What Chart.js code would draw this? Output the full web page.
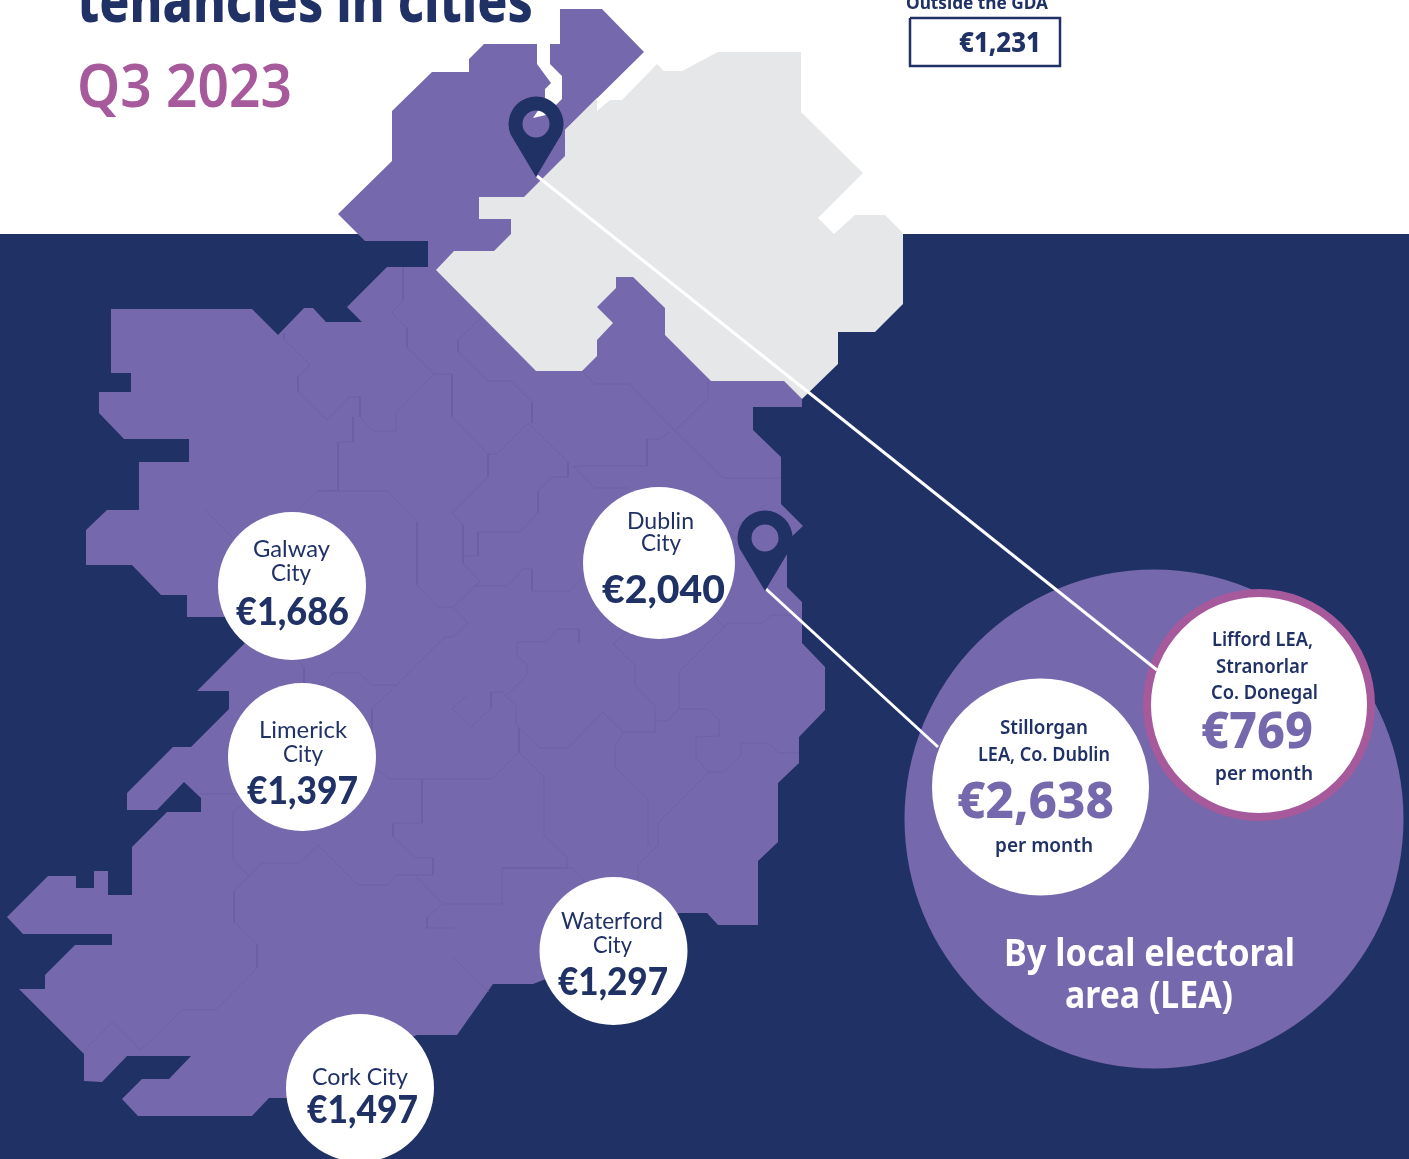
<!DOCTYPE html>
<html>
<head>
<meta charset="utf-8">
<title>Tenancies in cities Q3 2023</title>
<script src="https://cdn.jsdelivr.net/npm/chart.js@4"></script>
<style>
    html, body { margin: 0; padding: 0; background: #fff; overflow: hidden; }
    canvas { display: block; }
</style>
</head>
<body>
<canvas id="mapChart" width="1409" height="1159"></canvas>
<script>
// values
const cityRents = [1686, 1397, 2040, 1297, 1497];
const leaRents = [2638, 769];
const outsideGdaRent = 1231;

// map outlines, in picture coordinates
const irelandOutline = [[560,9],[602,9],[644,52],[565,130],[565,156],[802,399],[802,407],[753,407],[753,430],[781,457],[781,504],[803,526],[787,541],[787,587],[802,602],[802,643],[825,667],[825,710],[799,737],[799,763],[778,783],[778,842],[758,861],[758,925],[718,925],[707,913],[679,913],[620,950],[533,984],[493,984],[457,1035],[417,1035],[350,1060],[287,1098],[269,1098],[252,1116],[138,1116],[122,1099],[142,1079],[169,1079],[191,1056],[127,1056],[102,1082],[84,1081],[84,1054],[19,989],[45,989],[45,975],[75,945],[112,945],[112,934],[23,934],[7,917],[48,876],[76,876],[76,888],[94,888],[94,871],[108,871],[108,895],[132,895],[132,847],[167,812],[201,812],[201,798],[184,782],[157,810],[127,810],[127,793],[173,747],[191,747],[229,709],[229,691],[197,691],[245,643],[227,617],[187,617],[187,595],[161,595],[132,565],[86,565],[86,530],[107,510],[139,510],[139,462],[189,462],[189,439],[124,439],[99,413],[99,392],[131,392],[131,373],[111,373],[111,309],[252,309],[278,335],[304,308],[313,308],[326,322],[362,322],[347,307],[387,267],[428,267],[428,241],[365,241],[338,214],[392,161],[392,111],[432,72],[469,72],[469,59],[484,44],[537,44],[537,64],[551,83],[545,89],[545,100],[533,118],[546,115],[562,99],[562,76],[550,64],[550,44],[560,44],[560,9]];
const northernOutline = [[436,270],[454,251],[494,251],[511,234],[511,219],[479,219],[479,197],[524,197],[565,156],[565,130],[597,98],[597,111],[610,100],[622,100],[657,64],[664,71],[682,71],[718,52],[801,52],[801,112],[863,173],[818,218],[834,234],[855,215],[885,215],[903,233],[903,304],[875,332],[838,332],[838,364],[802,399],[784,381],[711,381],[665,335],[665,308],[633,277],[616,277],[616,288],[597,307],[613,323],[597,340],[597,356],[582,371],[536,371],[436,270]];
const seaOutline = [[0,234],[1409,234],[1409,1159],[0,1159],[0,234]];
const gdaBoxOutline = [[910,18],[1060,18],[1060,66],[910,66],[910,18]];

// county boundaries
const countyLines = [
    [[403,267],[403,300],[392,313],[407,328],[407,347],[434,374],[452,374],[452,417],[488,454],[497,454],[528,423],[568,462],[568,477],[552,477],[538,491],[538,513],[520,532],[478,532],[478,556],[463,556]],
    [[284,333],[284,339],[310,365],[298,377],[298,392],[327,420],[349,397],[360,397],[360,417],[373,431],[396,431],[396,413],[434,374]],
    [[353,417],[353,442],[338,442],[338,490],[318,491],[297,511]],
    [[318,491],[387,491],[417,522],[417,585],[438,607],[453,607],[468,623],[453,637],[445,637],[372,709],[372,767],[390,779],[492,779],[519,752]],
    [[422,779],[422,823],[393,823],[393,837],[416,858],[433,858],[433,875],[397,875],[387,885],[358,885],[318,845],[300,863],[262,863],[234,891],[234,922],[257,944],[257,968],[216,1010],[182,1010],[141,1050],[112,1022],[83,1052]],
    [[249,876],[233,860],[233,812],[245,802]],
    [[200,794],[238,794]],
    [[416,876],[443,904],[502,904],[502,868],[567,868],[567,857],[544,835],[544,777],[519,752]],
    [[502,868],[572,868],[585,882]],
    [[443,904],[427,917],[427,928],[453,928]],
    [[453,957],[489,992]],
    [[638,880],[638,865],[658,845],[658,823],[709,772],[723,772],[741,755],[741,743],[768,743],[779,753],[799,753]],
    [[709,772],[696,758],[696,737],[719,736],[719,720],[708,709],[679,709],[679,672],[728,623],[763,623],[771,615],[802,615]],
    [[648,845],[648,799],[615,767],[615,747],[623,732],[655,732],[655,706],[635,685],[635,665],[613,644],[627,632]],
    [[725,627],[715,618]],
    [[679,709],[667,721],[655,721]],
    [[623,732],[603,712],[568,748],[540,748],[519,728],[516,725],[516,706],[502,692],[491,692],[491,708],[471,727],[452,709],[467,695]],
    [[507,695],[527,675],[527,665],[517,655],[517,642],[546,642],[558,629],[579,629],[579,643]],
    [[519,728],[519,752]],
    [[488,454],[488,477],[452,513],[463,525],[463,563],[480,581],[475,586],[507,586],[523,569],[532,569],[532,591],[570,591],[583,577]],
    [[480,581],[453,607]],
    [[458,340],[482,317]],
    [[458,340],[458,352],[488,381],[511,381],[532,402],[532,423]],
    [[582,371],[595,384],[629,384],[675,431],[708,398],[708,381]],
    [[675,431],[723,478],[781,478]],
    [[670,432],[660,439],[647,439],[647,466],[573,466],[595,488],[628,488]],
    [[768,503],[745,520],[730,532],[742,545]],
    [[297,659],[304,668],[304,685],[323,685],[333,673],[359,673],[372,685],[396,685]],
    [[205,510],[233,538]]
];

// connectors from the two pins to the LEA circles
const connectorLines = [
    [[537,176],[1157,670]],
    [[765,588],[938,747]]
];

const ink = '#203166';
const purple = '#7668ac';
const borderPurple = '#6a5fa4';
const magenta = '#a65a9b';
const pale = '#e6e7e8';

const euro = n => '€' + n.toLocaleString('en-IE');
const points = list => list.map(p => ({ x: p[0], y: p[1] }));

// circles: x, y, radius
const bigCircle = [{ x: 1154, y: 819, r: 249.5 }];
const cityCircles = [
    { x: 292, y: 586, r: 74 },
    { x: 302, y: 757, r: 74 },
    { x: 659, y: 563, r: 76 },
    { x: 613.5, y: 951, r: 74 },
    { x: 360, y: 1088, r: 74 }
];
const stillorganCircle = [{ x: 1040.5, y: 787, r: 108.5 }];
const liffordCircle = [{ x: 1259, y: 705, r: 112 }];
const pinTips = [{ x: 536, y: 177 }, { x: 765, y: 591 }];

function shape(list, colour) {
    return { type: 'line', data: points(list), backgroundColor: colour, borderWidth: 0, fill: 'shape', pointRadius: 0, tension: 0 };
}
function stroke(list, colour, width) {
    return { type: 'line', data: points(list), borderColor: colour, borderWidth: width, fill: false, pointRadius: 0, tension: 0 };
}
function circles(list, colour, edge, edgeWidth) {
    return { type: 'bubble', data: list, backgroundColor: colour, borderColor: edge || colour, borderWidth: edgeWidth || 0 };
}

// first dataset is painted last
const datasets = [
    circles(cityCircles, '#fff'),
    ...connectorLines.map(l => stroke(l, '#fff', 3)),
    circles(stillorganCircle, '#fff'),
    circles(liffordCircle, '#fff', magenta, 8),
    circles(bigCircle, purple),
    shape(northernOutline, pale),
    ...countyLines.map(l => stroke(l, borderPurple, 0.7)),
    shape(irelandOutline, purple),
    stroke(gdaBoxOutline, ink, 2.5),
    shape(seaOutline, ink)
];

const city = '400 24px Lato';
const cityRent = '900 37px Lato';
const lea = '600 20px "Noto Sans"';
const leaRent = '800 50px "Noto Sans"';

// text, left, right, baseline, font, colour
const textRows = [
    ['tenancies in cities', 77, 533, 22, '800 60px "Noto Sans"', ink],
    ['Q3 2023', 77, 292, 107, '600 60px "Noto Sans"', magenta],
    ['Outside the GDA', 906, 1048, 9, '700 18px "Noto Sans"', ink],
    [euro(outsideGdaRent), 959, 1041, 52, '800 28px "Noto Sans"', ink],
    ['Galway', 253, 330, 557, city, ink],
    ['City', 271, 311, 581, city, ink],
    [euro(cityRents[0]), 236, 349, 625, cityRent, ink],
    ['Limerick', 259, 347, 738, city, ink],
    ['City', 283, 323, 762, city, ink],
    [euro(cityRents[1]), 247, 358, 804, cityRent, ink],
    ['Dublin', 627, 694, 529, city, ink],
    ['City', 641, 681, 551, city, ink],
    [euro(cityRents[2]), 602, 725, 603, cityRent, ink],
    ['Waterford', 561, 663, 929, city, ink],
    ['City', 593, 632, 953, city, ink],
    [euro(cityRents[3]), 558, 668, 995, cityRent, ink],
    ['Cork City', 312, 408, 1085, city, ink],
    [euro(cityRents[4]), 307, 418, 1123, cityRent, ink],
    ['Lifford LEA,', 1212, 1313, 646, lea, ink],
    ['Stranorlar', 1216, 1308, 673, lea, ink],
    ['Co. Donegal', 1211, 1318, 699, lea, ink],
    [euro(leaRents[1]), 1201, 1313, 748, leaRent, purple],
    ['per month', 1215, 1313, 780, lea, ink],
    ['Stillorgan', 1000, 1088, 734, lea, ink],
    ['LEA, Co. Dublin', 978, 1110, 761, lea, ink],
    [euro(leaRents[0]), 957, 1114, 818, leaRent, purple],
    ['per month', 995, 1093, 852, lea, ink],
    ['By local electoral', 1004, 1295, 966, '700 37px "Noto Sans"', '#fff'],
    ['area (LEA)', 1065, 1233, 1008, '700 37px "Noto Sans"', '#fff']
];

// pins and text go on top of the datasets
const mapExtras = {
    id: 'mapExtras',
    afterDatasetsDraw(chart) {
        const ctx = chart.ctx;
        const xs = chart.scales.x;
        const ys = chart.scales.y;

        pinTips.forEach(tip => {
            const px = xs.getPixelForValue(tip.x);
            const py = ys.getPixelForValue(tip.y);
            const headY = py - 53;
            ctx.save();
            ctx.beginPath();
            ctx.arc(px, headY, 27.5, Math.PI - 0.38, 0.38);
            ctx.lineTo(px, py);
            ctx.closePath();
            ctx.moveTo(px + 13.5, headY);
            ctx.arc(px, headY, 13.5, 0, Math.PI * 2);
            ctx.fillStyle = ink;
            ctx.fill('evenodd');
            ctx.restore();
        });

        textRows.forEach(row => {
            const left = xs.getPixelForValue(row[1]);
            const right = xs.getPixelForValue(row[2]);
            ctx.save();
            ctx.font = row[4];
            ctx.fillStyle = row[5];
            ctx.textBaseline = 'alphabetic';
            const natural = ctx.measureText(row[0]).width;
            ctx.translate(left, ys.getPixelForValue(row[3]));
            ctx.scale((right - left) / natural, 1);
            ctx.fillText(row[0], 0, 0);
            ctx.restore();
        });
    }
};

new Chart(document.getElementById('mapChart').getContext('2d'), {
    data: { datasets: datasets },
    options: {
        responsive: false,
        animation: false,
        events: [],
        layout: { padding: 0, autoPadding: false },
        scales: {
            x: { type: 'linear', min: 0, max: 1409, display: false },
            y: { type: 'linear', min: 0, max: 1159, reverse: true, display: false }
        },
        plugins: { legend: { display: false }, tooltip: { enabled: false } }
    },
    plugins: [mapExtras]
});
</script>
</body>
</html>
